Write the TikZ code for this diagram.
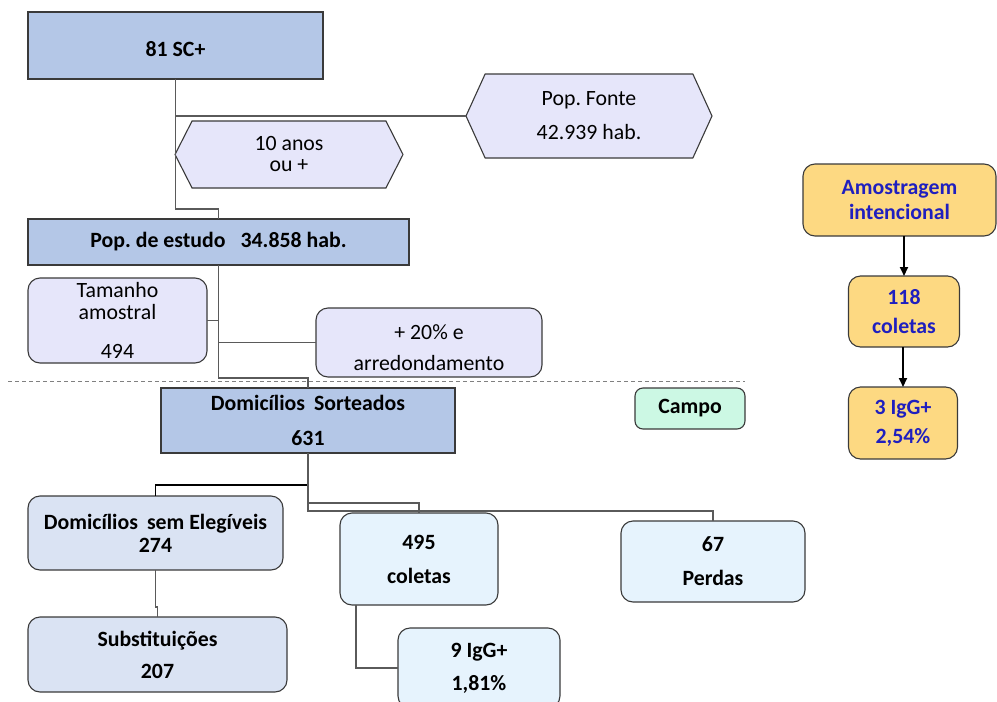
\documentclass[tikz,border=0pt]{standalone}
\usepackage{fontspec}
\setmainfont{Carlito}
\frenchspacing
\usetikzlibrary{shapes.symbols,calc,arrows.meta}
\definecolor{blueA}{HTML}{B4C7E7}
\definecolor{lav}{HTML}{E6E6FA}
\definecolor{semf}{HTML}{DAE3F3}
\definecolor{lblue}{HTML}{E6F3FD}
\definecolor{mint}{HTML}{CCF8E4}
\definecolor{gold}{HTML}{FDD982}
\definecolor{bluetxt}{HTML}{1F1FBF}
\definecolor{bordc}{HTML}{3A3A3A}
\definecolor{connc}{HTML}{5A5A5A}
\begin{document}
\begin{tikzpicture}[x=1pt,y=-1pt,
  base/.style={draw=bordc,line width=1.1pt,inner sep=0pt,outer sep=0pt,align=center,
    font=\fontsize{21.8}{23}\selectfont\frenchspacing,text=black},
  bold/.style={font=\fontsize{21.8}{23}\selectfont\bfseries\frenchspacing},
  sharpbox/.style={base,bold,fill=blueA},
  rbox/.style={base,rounded corners=12pt},
  hexa/.style={base,shape=signal,signal to=west and east,fill=lav},
  conn/.style={draw=connc,line width=1.3pt},
  arr/.style={draw=black,line width=2pt,-{Triangle[length=9pt,width=8pt]}}
]
\useasboundingbox (0,0) rectangle (997,702);

% nodes
\node[sharpbox,minimum width=295pt,minimum height=67pt] (sc) at (175.5,45.5)
  {\raisebox{-11pt}[0pt][0pt]{81 SC+}};
\node[hexa,signal pointer angle=131,minimum width=246pt,minimum height=84pt] (fonte) at (589,116)
  {Pop. Fonte\\[11pt]42.939 hab.};
\node[hexa,signal pointer angle=126,minimum width=228pt,minimum height=67pt] (anos) at (289,154.5)
  {10 anos\\[-2pt]ou +};
\node[sharpbox,minimum width=381pt,minimum height=46pt] (estudo) at (218.5,242)
  {Pop. de estudo\hspace{15pt}34.858 hab.};
\node[rbox,fill=lav,minimum width=179pt,minimum height=85pt] (tam) at (117.5,320.5)
  {Tamanho\\[-1pt]amostral\\[16pt]494};
\node[rbox,fill=lav,minimum width=226pt,minimum height=69pt] (arred) at (429,342.5)
  {\rule{0pt}{26pt}+ 20\% e\\[8pt]arredondamento};
\node[sharpbox,minimum width=294pt,minimum height=65pt] (sort) at (308,420.5)
  {Domicílios\hspace{9pt}Sorteados\\[12pt]631};
\node[rbox,bold,fill=mint,rounded corners=8pt,minimum width=110pt,minimum height=41pt] (campo) at (690,408.5)
  {Campo};
\node[rbox,bold,fill=semf,minimum width=255pt,minimum height=74pt] (sem) at (155.5,533)
  {Domicílios\hspace{9pt}sem Elegíveis\\274};
\node[rbox,bold,fill=semf,minimum width=259pt,minimum height=75pt] (subst) at (157.5,654.5)
  {Substituições\\[9pt]207};
\node[rbox,bold,fill=lblue,minimum width=158pt,minimum height=92pt] (col) at (419,559)
  {495\\[11pt]coletas};
\node[rbox,bold,fill=lblue,minimum width=184pt,minimum height=81pt] (perd) at (713,561.5)
  {67\\[11pt]Perdas};
\node[rbox,bold,fill=lblue,minimum width=162pt,minimum height=80pt] (igg) at (479,668)
  {9 IgG+\\[10pt]1,81\%};
\node[rbox,bold,fill=gold,text=bluetxt,minimum width=193pt,minimum height=72pt] (amos) at (899.5,200)
  {Amostragem\\[2pt]intencional};
\node[rbox,bold,fill=gold,text=bluetxt,minimum width=111pt,minimum height=71pt] (c118) at (904,311.5)
  {118\\[6pt]coletas};
\node[rbox,bold,fill=gold,text=bluetxt,minimum width=109pt,minimum height=72pt] (c3) at (903,423)
  {3 IgG+\\[6pt]2,54\%};

% dashed separator
\draw[draw=gray,line width=1pt,dash pattern=on 4pt off 3pt] (8,381) -- (745,381);

% connectors
\draw[conn] (sc.south) |- ($(estudo.north)+(0,-10)$) -| (estudo.north);
\draw[conn] (sc.south |- fonte.west) -- (fonte.west);
\draw[conn] (estudo.south) |- ($(sort.north)+(0,-10)$) -| (sort.north);
\draw[conn] (tam.east) -- (estudo.south |- tam.east);
\draw[conn] (arred.west) -- (estudo.south |- arred.west);
\draw[conn,draw=black] (sort.south) |- ($(sem.north)+(0,-11)$) -| (sem.north);
\draw[conn] (sort.south) |- ($(col.north)+(0,-10)$) -| (col.north);
\draw[conn] (sort.south) |- ($(perd.north)+(0,-10)$) -| (perd.north);
\draw[conn] (sem.south) -- ++(0,37) -| (subst.north);
\draw[conn] ($(col.south west)+(16,0)$) |- (igg.west);

% arrows
\draw[arr] (c118.north |- amos.south) -- (c118.north);
\draw[arr] (c118.south -| c3.north) -- (c3.north);
\end{tikzpicture}
\end{document}
